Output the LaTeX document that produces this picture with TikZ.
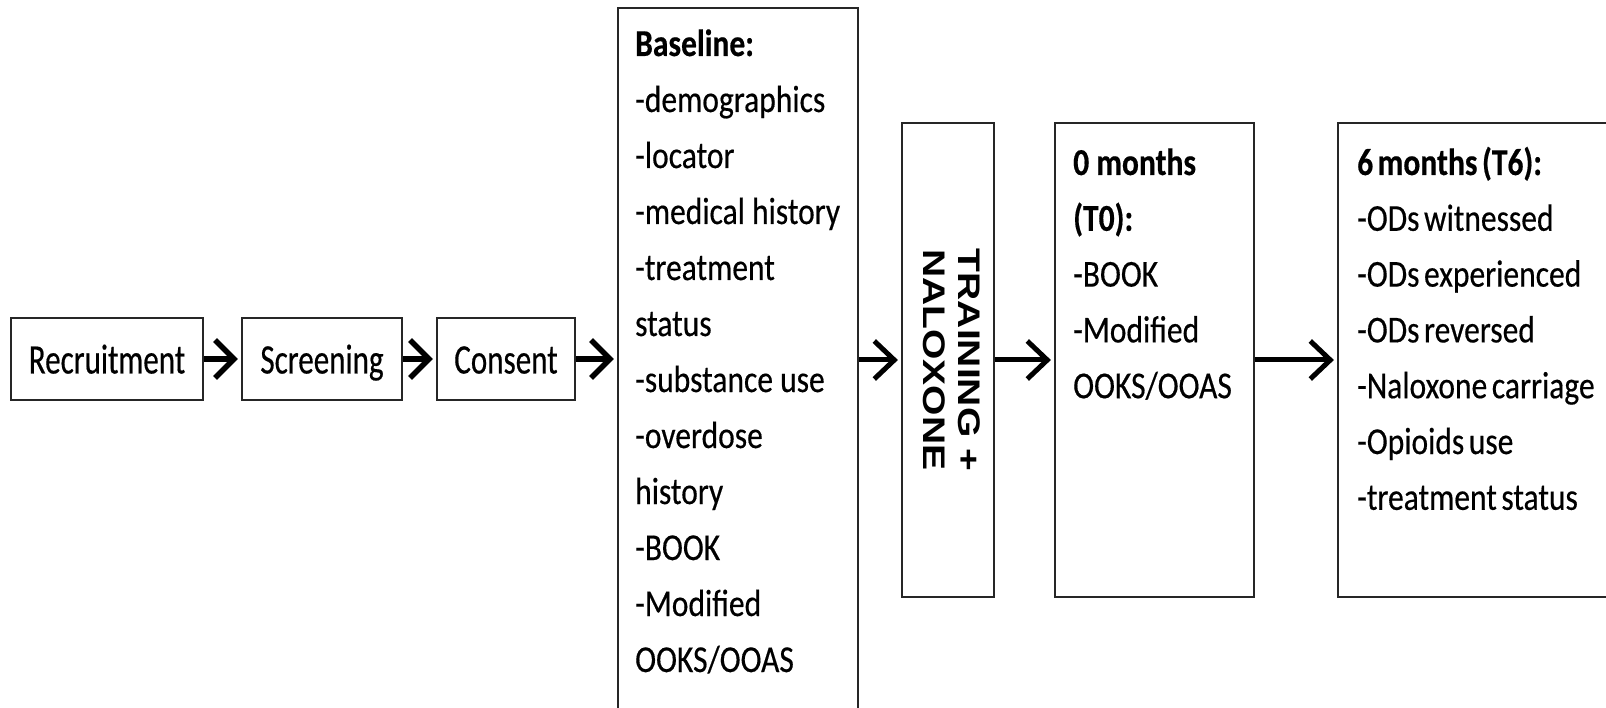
\documentclass[tikz,border=0pt]{standalone}
\usepackage{graphicx}
\usepackage{fontspec}
\setmainfont{Carlito}[FakeStretch=0.83,FakeBold=0.4]
\newfontfamily\smallboxfont{Carlito}[FakeStretch=0.74,FakeBold=0.4]
\newfontfamily\trainfont{Liberation Sans}
\usetikzlibrary{arrows.meta}
\newcommand\mytightspace{\spaceskip=0.12em\relax}
\begin{document}
\begin{tikzpicture}[x=1pt,y=-1pt,
  box/.style={draw=black!85, line width=2.2pt, inner sep=0pt},
  smallbox/.style={box, minimum height=82pt, text height=29pt, text depth=0pt,
    font=\smallboxfont\fontsize{42}{50}\selectfont},
  arr/.style={line width=5.5pt, -{Straight Barb[length=19pt,width=38pt]}, shorten >=3pt},
  arrb/.style={line width=5pt, -{Straight Barb[length=20pt,width=38pt]}, shorten >=3pt},
  txtline/.style={anchor=base west, inner sep=0pt, font=\fontsize{38}{46}\selectfont}
]
\useasboundingbox (0,0) rectangle (1606,708);
\clip (0,0) rectangle (1606,708);

\node[smallbox, minimum width=192pt] (rec) at (107,359) {Recruitment};
\node[smallbox, minimum width=160pt] (scr) at (322,359) {Screening};
\node[smallbox, minimum width=138pt] (con) at (506,359) {Consent};
\node[box, minimum width=240pt, minimum height=760pt] (base) at (738,388) {};
\node[box, minimum width=92pt, minimum height=474pt] (train) at (948,360)
  {\rotatebox{-90}{\scalebox{1}[0.8]{\trainfont\bfseries\fontsize{39}{44}\selectfont
   \begin{tabular}{@{}c@{}}TRAINING +\\NALOXONE\end{tabular}}}};
\node[box, minimum width=199pt, minimum height=474pt] (t0) at (1154.5,360) {};
\node[box, minimum width=320pt, minimum height=474pt] (t6) at (1498,360) {};

\foreach \t [count=\i from 0] in {{\bfseries Baseline:},-demographics,-locator,
  -medical history,-treatment,status,-substance use,-overdose,history,-BOOK,
  -Modified,OOKS/OOAS}
  \node[txtline, name=bl\i] at (635,56+56*\i) {\t};

\foreach \t [count=\i from 0] in {{\bfseries 0 months},{\bfseries (T0):},-BOOK,
  -Modified,OOKS/OOAS}
  \node[txtline, name=za\i] at (1073,175+55.8*\i) {\t};

\foreach \t [count=\i from 0] in {{\bfseries 6 months (T6):},-ODs witnessed,
  -ODs experienced,-ODs reversed,-Naloxone carriage,-Opioids use,-treatment status}
  \node[txtline, name=sx\i] at (1357,175+55.8*\i) {\mytightspace\t};

\draw[arr] (rec.east) -- (scr.west);
\draw[arr] (scr.east) -- (con.west);
\draw[arr] (con.east) -- (con.east -| base.west);
\draw[arrb] (train.west -| base.east) -- (train.west);
\draw[arrb] (train.east) -- (t0.west);
\draw[arrb] (t0.east) -- (t6.west);
\end{tikzpicture}
\end{document}
